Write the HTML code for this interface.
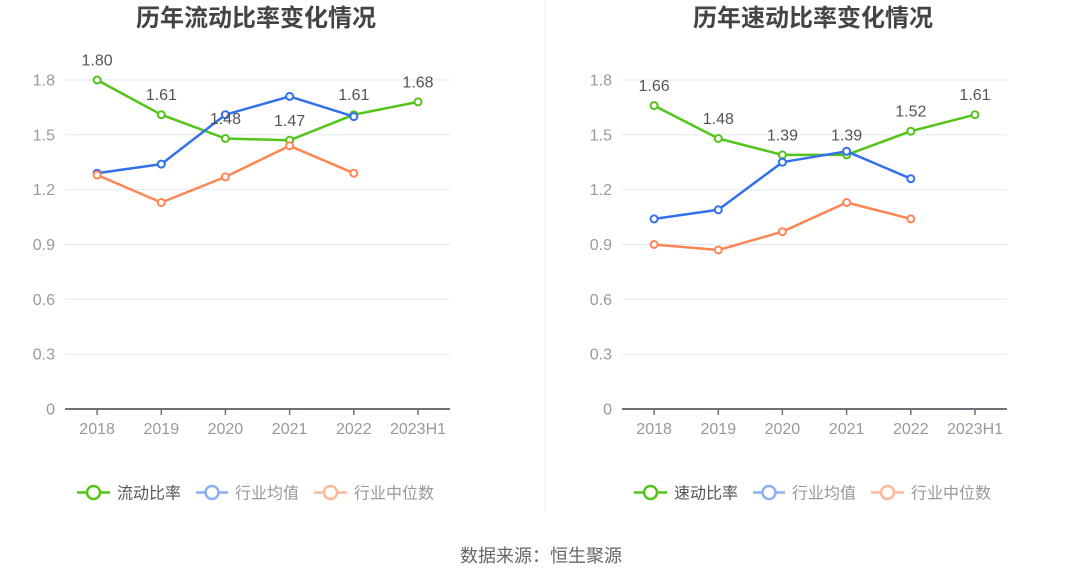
<!DOCTYPE html>
<html>
<head>
<meta charset="utf-8">
<style>
html,body{margin:0;padding:0;background:#fff;}
svg{display:block;}
text{font-family:"Liberation Sans","Noto Sans CJK SC",sans-serif;}
</style>
</head>
<body>
<svg width="1082" height="582" viewBox="0 0 1082 582" xmlns="http://www.w3.org/2000/svg">
<rect width="1082" height="582" fill="#fff"/>
<line x1="545" y1="0" x2="545" y2="512" stroke="#eeeeee" stroke-width="1"/>

<!-- ============ LEFT CHART ============ -->
<text x="256" y="26" text-anchor="middle" font-size="24" font-weight="bold" fill="#444">历年流动比率变化情况</text>
<g stroke="#e3e8f2" stroke-width="1">
<line x1="65" y1="80" x2="450" y2="80"/>
<line x1="65" y1="134.8" x2="450" y2="134.8"/>
<line x1="65" y1="189.7" x2="450" y2="189.7"/>
<line x1="65" y1="244.5" x2="450" y2="244.5"/>
<line x1="65" y1="299.3" x2="450" y2="299.3"/>
<line x1="65" y1="354.2" x2="450" y2="354.2"/>
</g>
<g font-size="16" fill="#999" text-anchor="end">
<text x="55" y="85.5">1.8</text>
<text x="55" y="140.3">1.5</text>
<text x="55" y="195.2">1.2</text>
<text x="55" y="250">0.9</text>
<text x="55" y="304.8">0.6</text>
<text x="55" y="359.7">0.3</text>
<text x="55" y="414.5">0</text>
</g>
<line x1="65" y1="409" x2="450" y2="409" stroke="#6e7079" stroke-width="2"/>
<g stroke="#6e7079" stroke-width="1.5">
<line x1="97.1" y1="409" x2="97.1" y2="415"/>
<line x1="161.3" y1="409" x2="161.3" y2="415"/>
<line x1="225.4" y1="409" x2="225.4" y2="415"/>
<line x1="289.6" y1="409" x2="289.6" y2="415"/>
<line x1="353.8" y1="409" x2="353.8" y2="415"/>
<line x1="418" y1="409" x2="418" y2="415"/>
</g>
<g font-size="16" fill="#999" text-anchor="middle">
<text x="97.1" y="434">2018</text>
<text x="161.3" y="434">2019</text>
<text x="225.4" y="434">2020</text>
<text x="289.6" y="434">2021</text>
<text x="353.8" y="434">2022</text>
<text x="418" y="434">2023H1</text>
</g>
<polyline fill="none" stroke="#52c41a" stroke-width="2.5" stroke-linejoin="round" points="97.1,80 161.3,114.7 225.4,138.5 289.6,140.3 353.8,114.7 418,101.9"/>
<g fill="#fff" stroke="#52c41a" stroke-width="2">
<circle cx="97.1" cy="80" r="3.5"/><circle cx="161.3" cy="114.7" r="3.5"/><circle cx="225.4" cy="138.5" r="3.5"/><circle cx="289.6" cy="140.3" r="3.5"/><circle cx="353.8" cy="114.7" r="3.5"/><circle cx="418" cy="101.9" r="3.5"/>
</g>
<polyline fill="none" stroke="#3370eb" stroke-width="2.5" stroke-linejoin="round" points="97.1,173.2 161.3,164.1 225.4,114.7 289.6,96.4 353.8,116.6"/>
<g fill="#fff" stroke="#3370eb" stroke-width="2">
<circle cx="97.1" cy="173.2" r="3.5"/><circle cx="161.3" cy="164.1" r="3.5"/><circle cx="225.4" cy="114.7" r="3.5"/><circle cx="289.6" cy="96.4" r="3.5"/><circle cx="353.8" cy="116.6" r="3.5"/>
</g>
<polyline fill="none" stroke="#ff8552" stroke-width="2.5" stroke-linejoin="round" points="97.1,175 161.3,202.5 225.4,176.9 289.6,145.8 353.8,173.2"/>
<g fill="#fff" stroke="#ff8552" stroke-width="2">
<circle cx="97.1" cy="175" r="3.5"/><circle cx="161.3" cy="202.5" r="3.5"/><circle cx="225.4" cy="176.9" r="3.5"/><circle cx="289.6" cy="145.8" r="3.5"/><circle cx="353.8" cy="173.2" r="3.5"/>
</g>
<g font-size="16" fill="#555" text-anchor="middle">
<text x="97.1" y="65.5">1.80</text>
<text x="161.3" y="100.2">1.61</text>
<text x="225.4" y="124">1.48</text>
<text x="289.6" y="125.8">1.47</text>
<text x="353.8" y="100.2">1.61</text>
<text x="418" y="87.4">1.68</text>
</g>
<line x1="77" y1="492.5" x2="110" y2="492.5" stroke="#52c41a" stroke-width="2.5"/>
<circle cx="93.5" cy="492.5" r="6.5" fill="#fff" stroke="#52c41a" stroke-width="2.5"/>
<text x="117" y="498.5" font-size="16" fill="#555">流动比率</text>
<line x1="196" y1="492.5" x2="228" y2="492.5" stroke="#8fb0f5" stroke-width="2.5"/>
<circle cx="212" cy="492.5" r="6.5" fill="#fff" stroke="#8fb0f5" stroke-width="2.5"/>
<text x="235" y="498.5" font-size="16" fill="#999">行业均值</text>
<line x1="314" y1="492.5" x2="347" y2="492.5" stroke="#ffb89c" stroke-width="2.5"/>
<circle cx="330.5" cy="492.5" r="6.5" fill="#fff" stroke="#ffb89c" stroke-width="2.5"/>
<text x="354" y="498.5" font-size="16" fill="#999">行业中位数</text>

<!-- ============ RIGHT CHART ============ -->
<text x="813" y="26" text-anchor="middle" font-size="24" font-weight="bold" fill="#444">历年速动比率变化情况</text>
<g stroke="#e3e8f2" stroke-width="1">
<line x1="622" y1="80" x2="1007" y2="80"/>
<line x1="622" y1="134.8" x2="1007" y2="134.8"/>
<line x1="622" y1="189.7" x2="1007" y2="189.7"/>
<line x1="622" y1="244.5" x2="1007" y2="244.5"/>
<line x1="622" y1="299.3" x2="1007" y2="299.3"/>
<line x1="622" y1="354.2" x2="1007" y2="354.2"/>
</g>
<g font-size="16" fill="#999" text-anchor="end">
<text x="612" y="85.5">1.8</text>
<text x="612" y="140.3">1.5</text>
<text x="612" y="195.2">1.2</text>
<text x="612" y="250">0.9</text>
<text x="612" y="304.8">0.6</text>
<text x="612" y="359.7">0.3</text>
<text x="612" y="414.5">0</text>
</g>
<line x1="622" y1="409" x2="1007" y2="409" stroke="#6e7079" stroke-width="2"/>
<g stroke="#6e7079" stroke-width="1.5">
<line x1="654.1" y1="409" x2="654.1" y2="415"/>
<line x1="718.3" y1="409" x2="718.3" y2="415"/>
<line x1="782.4" y1="409" x2="782.4" y2="415"/>
<line x1="846.6" y1="409" x2="846.6" y2="415"/>
<line x1="910.8" y1="409" x2="910.8" y2="415"/>
<line x1="975" y1="409" x2="975" y2="415"/>
</g>
<g font-size="16" fill="#999" text-anchor="middle">
<text x="654.1" y="434">2018</text>
<text x="718.3" y="434">2019</text>
<text x="782.4" y="434">2020</text>
<text x="846.6" y="434">2021</text>
<text x="910.8" y="434">2022</text>
<text x="975" y="434">2023H1</text>
</g>
<polyline fill="none" stroke="#52c41a" stroke-width="2.5" stroke-linejoin="round" points="654.1,105.6 718.3,138.5 782.4,154.9 846.6,154.9 910.8,131.2 975,114.7"/>
<g fill="#fff" stroke="#52c41a" stroke-width="2">
<circle cx="654.1" cy="105.6" r="3.5"/><circle cx="718.3" cy="138.5" r="3.5"/><circle cx="782.4" cy="154.9" r="3.5"/><circle cx="846.6" cy="154.9" r="3.5"/><circle cx="910.8" cy="131.2" r="3.5"/><circle cx="975" cy="114.7" r="3.5"/>
</g>
<polyline fill="none" stroke="#3370eb" stroke-width="2.5" stroke-linejoin="round" points="654.1,218.9 718.3,209.8 782.4,162.2 846.6,151.3 910.8,178.7"/>
<g fill="#fff" stroke="#3370eb" stroke-width="2">
<circle cx="654.1" cy="218.9" r="3.5"/><circle cx="718.3" cy="209.8" r="3.5"/><circle cx="782.4" cy="162.2" r="3.5"/><circle cx="846.6" cy="151.3" r="3.5"/><circle cx="910.8" cy="178.7" r="3.5"/>
</g>
<polyline fill="none" stroke="#ff8552" stroke-width="2.5" stroke-linejoin="round" points="654.1,244.5 718.3,250 782.4,231.7 846.6,202.5 910.8,218.9"/>
<g fill="#fff" stroke="#ff8552" stroke-width="2">
<circle cx="654.1" cy="244.5" r="3.5"/><circle cx="718.3" cy="250" r="3.5"/><circle cx="782.4" cy="231.7" r="3.5"/><circle cx="846.6" cy="202.5" r="3.5"/><circle cx="910.8" cy="218.9" r="3.5"/>
</g>
<g font-size="16" fill="#555" text-anchor="middle">
<text x="654.1" y="91.1">1.66</text>
<text x="718.3" y="124">1.48</text>
<text x="782.4" y="140.4">1.39</text>
<text x="846.6" y="140.4">1.39</text>
<text x="910.8" y="116.7">1.52</text>
<text x="975" y="100.2">1.61</text>
</g>
<line x1="634" y1="492.5" x2="667" y2="492.5" stroke="#52c41a" stroke-width="2.5"/>
<circle cx="650.5" cy="492.5" r="6.5" fill="#fff" stroke="#52c41a" stroke-width="2.5"/>
<text x="674" y="498.5" font-size="16" fill="#555">速动比率</text>
<line x1="753" y1="492.5" x2="785" y2="492.5" stroke="#8fb0f5" stroke-width="2.5"/>
<circle cx="769" cy="492.5" r="6.5" fill="#fff" stroke="#8fb0f5" stroke-width="2.5"/>
<text x="792" y="498.5" font-size="16" fill="#999">行业均值</text>
<line x1="871" y1="492.5" x2="904" y2="492.5" stroke="#ffb89c" stroke-width="2.5"/>
<circle cx="887.5" cy="492.5" r="6.5" fill="#fff" stroke="#ffb89c" stroke-width="2.5"/>
<text x="911" y="498.5" font-size="16" fill="#999">行业中位数</text>

<text x="541" y="562" text-anchor="middle" font-size="18" fill="#666">数据来源：恒生聚源</text>
</svg>
</body>
</html>
